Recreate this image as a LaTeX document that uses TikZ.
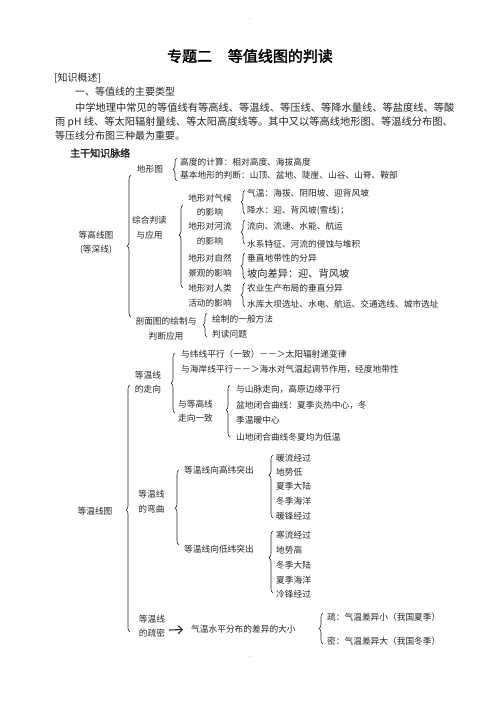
\documentclass[tikz,border=0pt]{standalone}
\usepackage{fontspec}
\setmainfont{Noto Sans CJK SC}
\newfontfamily\cjkbold[FakeBold=2]{Noto Sans CJK SC}
\usetikzlibrary{decorations.pathreplacing,arrows.meta}
\newcommand\fsTree{\fontsize{8.7}{14.5}\selectfont}
\newcommand\fsBody{\fontsize{10}{14}\selectfont}
\newcommand\fsBig{\fontsize{10.2}{14}\selectfont}
\newcommand\fsTitle{\fontsize{15}{16}\selectfont}
\begin{document}
\begin{tikzpicture}[x=1pt,y=-1pt,
  txt/.style={anchor=west,inner sep=0pt,font=\fsTree,text=black!85},
  lbl/.style={anchor=center,inner sep=0pt,align=center,font=\fsTree,text=black!85},
  body/.style={anchor=west,inner sep=0pt,font=\fsBody,text=black!85},
  brc/.style={decorate,decoration={brace,amplitude=4pt,#1},line width=0.6pt,black!85},
  brc/.default={aspect=0.5}]
\fill[white] (0,0) rectangle (500,706);
\useasboundingbox (0,0) rectangle (500,706);
% header
\node[inner sep=0pt,font=\fontsize{5}{5}\selectfont] (dotA) at (250,19) {.};
\node[inner sep=0pt,font=\fsTitle\cjkbold] (title) at (250,56) {专题二\hspace{1.05em}等值线图的判读};
\node[body] (gs) at (54,78) {[知识概述]};
\node[body] (lx) at (75,92) {一、等值线的主要类型};
\node[body,font=\fontsize{10.25}{14}\selectfont] (p1) at (75,108) {中学地理中常见的等值线有等高线、等温线、等压线、等降水量线、等盐度线、等酸};
\node[body,font=\fontsize{10.25}{14}\selectfont] (p2) at (55,122) {雨\ pH\ 线、等太阳辐射量线、等太阳高度线等。其中又以等高线地形图、等温线分布图、};
\node[body] (p3) at (55,136) {等压线分布图三种最为重要。};
\node[body,font=\fsBody\cjkbold] (zg) at (70,153) {主干知识脉络};
% ===== 等高线图 =====
\node[lbl] (r1) at (96,242.5) {等高线图\\(等深线)};
\coordinate (B1t) at (131,175); \coordinate (B1b) at (131,317);
\draw[brc] (B1b) -- (B1t);
% 地形图
\node[lbl] (dxt) at (150,169) {地形图};
\coordinate (b1t) at (177,158); \coordinate (b1b) at (177,181);
\draw[brc={aspect=0.5}] (b1b) -- (b1t);
\node[txt] (gd) at (180,162) {高度的计算：相对高度、海拔高度};
\node[txt] (jb) at (180,175.5) {基本地形的判断：山顶、盆地、陡崖、山谷、山脊、鞍部};
% 综合判读
\node[lbl] (zh) at (149.5,227.5) {综合判读\\与应用};
\coordinate (b2t) at (183,205); \coordinate (b2b) at (183,288);
\draw[brc={aspect=0.64}] (b2b) -- (b2t);
\node[lbl] (c1) at (210,205) {地形对气候\\的影响};
\coordinate (c1t) at (245,190); \coordinate (c1b) at (245,214);
\draw[brc] (c1b) -- (c1t);
\node[txt] (c1a) at (247,193) {气温：海拔、阴阳坡、迎背风坡};
\node[txt] (c1c) at (247,211) {降水：迎、背风坡(雪线)；};
\node[lbl] (c2) at (210,233.5) {地形对河流\\的影响};
\coordinate (c2t) at (245,220); \coordinate (c2b) at (245,244);
\draw[brc] (c2b) -- (c2t);
\node[txt] (c2a) at (247,226) {流向、流速、水能、航运};
\node[txt] (c2c) at (247,244) {水系特征、河流的侵蚀与堆积};
\node[lbl] (c3) at (210,265.5) {地形对自然\\景观的影响};
\coordinate (c3t) at (245,253); \coordinate (c3b) at (245,279);
\draw[brc] (c3b) -- (c3t);
\node[txt] (c3a) at (247,258) {垂直地带性的分异};
\node[txt,font=\fsBig] (c3c) at (247,274) {坡向差异：迎、背风坡};
\node[lbl] (c4) at (210,295.5) {地形对人类\\活动的影响};
\coordinate (c4t) at (245,283); \coordinate (c4b) at (245,307);
\draw[brc] (c4b) -- (c4t);
\node[txt] (c4a) at (247,288) {农业生产布局的垂直分异};
\node[txt] (c4c) at (247,304) {水库大坝选址、水电、航运、交通选线、城市选址};
% 剖面图
\node[lbl] (pm) at (166,328.5) {剖面图的绘制与\\判断应用};
\coordinate (b3t) at (207,313); \coordinate (b3b) at (207,337);
\draw[brc] (b3b) -- (b3t);
\node[txt] (pma) at (212,319) {绘制的一般方法};
\node[txt] (pmb) at (212,334) {判读问题};
% ===== 等温线图 =====
\node[lbl] (r2) at (95,511) {等温线图};
\coordinate (B2t) at (130,385); \coordinate (B2b) at (130,632);
\draw[brc={aspect=0.494}] (B2b) -- (B2t);
% 走向
\node[lbl] (m1) at (148,382) {等温线\\的走向};
\coordinate (m1t) at (175,353); \coordinate (m1b) at (175,413);
\draw[brc] (m1b) -- (m1t);
\node[txt] (m1a) at (181,354) {与纬线平行（一致）－－＞太阳辐射递变律};
\node[txt] (m1c) at (181,369) {与海岸线平行－－＞海水对气温起调节作用，经度地带性};
\node[lbl] (m1d) at (195.5,411) {与等高线\\走向一致};
\coordinate (m2t) at (230,385); \coordinate (m2b) at (230,437);
\draw[brc={aspect=0.52}] (m2b) -- (m2t);
\node[txt] (m2a) at (236,389) {与山脉走向，高原边缘平行};
\node[txt] (m2c) at (236,405) {盆地闭合曲线：夏季炎热中心，冬};
\node[txt] (m2d) at (236,420) {季温暖中心};
\node[txt] (m2e) at (236,437) {山地闭合曲线冬夏均为低温};
% 弯曲
\node[lbl] (wq) at (151.5,501.5) {等温线\\的弯曲};
\coordinate (wqt) at (179,470); \coordinate (wqb) at (179,545);
\draw[brc={aspect=0.49}] (wqb) -- (wqt);
\node[txt] (gw) at (184,470) {等温线向高纬突出};
\node[txt] (dw) at (184,549) {等温线向低纬突出};
\coordinate (l1t) at (273,455); \coordinate (l1b) at (273,518);
\draw[brc={aspect=0.68}] (l1b) -- (l1t);
\node[txt] (l1a) at (276,458) {暖流经过};
\node[txt] (l1c) at (276,472) {地势低};
\node[txt] (l1d) at (276,486.5) {夏季大陆};
\node[txt] (l1e) at (276,501) {冬季海洋};
\node[txt] (l1f) at (276,516) {暖锋经过};
\coordinate (l2t) at (273,531); \coordinate (l2b) at (273,593);
\draw[brc={aspect=0.57}] (l2b) -- (l2t);
\node[txt] (l2a) at (276,535) {寒流经过};
\node[txt] (l2c) at (276,550) {地势高};
\node[txt] (l2d) at (276,565) {冬季大陆};
\node[txt] (l2e) at (276,580) {夏季海洋};
\node[txt] (l2f) at (276,594) {冷锋经过};
% 疏密
\node[lbl] (sm) at (152,626) {等温线\\的疏密};
\node[txt] (cy) at (191,629.5) {气温水平分布的差异的大小};
\coordinate (arrS) at (169,630);
\draw[line width=1.1pt,black!85,-{Straight Barb[length=4pt,width=8pt,line width=1.1pt]}] (arrS) -- ([xshift=-8pt]cy.west);
\coordinate (s1t) at (323,613); \coordinate (s1b) at (323,644);
\draw[brc] (s1b) -- (s1t);
\node[txt] (s1a) at (327,617) {疏：气温差异小（我国夏季）};
\node[txt] (s1c) at (327,641) {密：气温差异大（我国冬季）};
\node[inner sep=0pt,font=\fontsize{5}{5}\selectfont] (dotB) at (250,657) {.};
\end{tikzpicture}
\end{document}
